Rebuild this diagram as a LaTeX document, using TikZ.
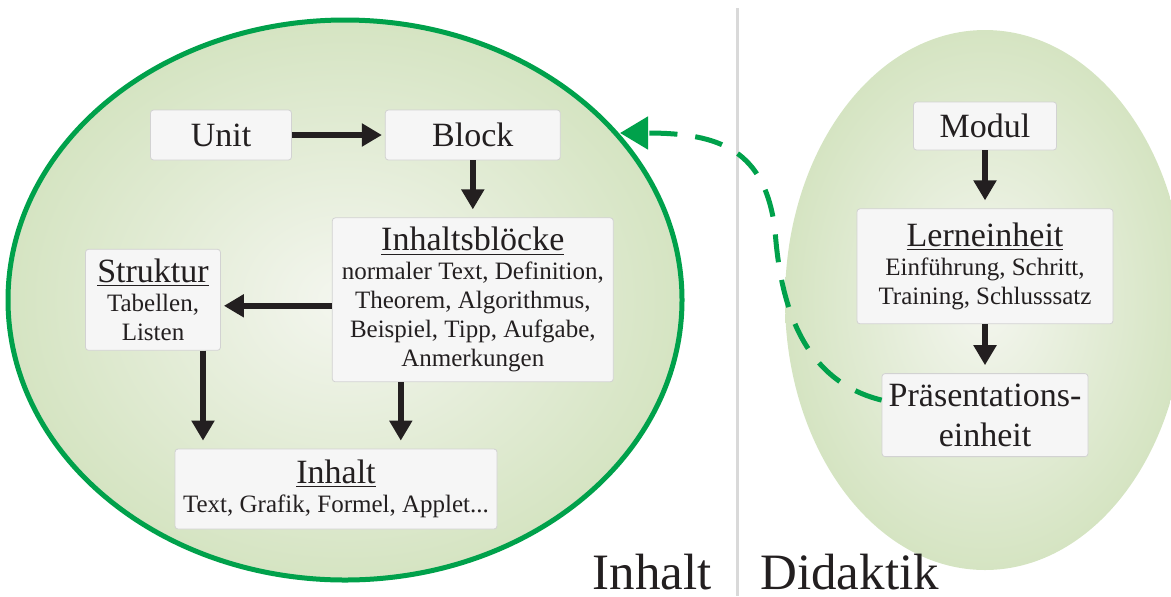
\documentclass[tikz,border=0pt]{standalone}
\usepackage{fontspec}
\setmainfont{Liberation Serif}
\usetikzlibrary{arrows.meta, positioning}
\definecolor{rimgreen}{HTML}{00A14B}
\definecolor{ink}{HTML}{231F20}
\definecolor{leafouter}{HTML}{D5E4C2}
\definecolor{leafinner}{HTML}{F4F6EF}
\def\BoxFill{gray!7}
\def\BoxLine{gray!35}
\newcommand\TitleFont{\fontsize{17}{20}\selectfont}
\newcommand\BodyFont{\fontsize{12.5}{14.5}\selectfont}

\begin{document}
\begin{tikzpicture} [x=0.5pt, y=-0.5pt,
    N/.style = {draw=\BoxLine, fill=\BoxFill, rounded corners=1.5pt, inner sep=0pt, align=center, font=\BodyFont, text=ink},
    T/.style = {N, font=\TitleFont},
    leaf/.style = {inner color=leafinner, outer color=leafouter},
    big/.style = {font=\fontsize{25.5}{30}\selectfont, text=ink, inner sep=0pt, text depth=0pt},
    back/.style = {draw=rimgreen, line width=2.5pt, dash pattern=on 14pt off 9pt, -{Triangle[length=14pt, width=16pt]}},
    every edge/.style = {draw=ink, line width=3pt, -{Triangle[length=10pt, width=11pt]}, shorten >=4pt}
    ]
  \useasboundingbox (0,0) rectangle (1171,596);
  \clip (0,0) rectangle (1171,596);

  %%% BACKGROUND %%%
  \shade[leaf] (985,300) ellipse [x radius=200, y radius=270];
  \shadedraw[leaf, draw=rimgreen, line width=2.5pt] (345,300) ellipse [x radius=337, y radius=280];
  \draw[gray!30, line width=1.5pt] (737,8) -- (737,596);

  %%% UNIT %%%
  \node[T, minimum width=70.5pt, minimum height=25pt] (unit) at (221,135) {Unit};

  %%% BLOCK %%%
  \node[T, minimum width=87.5pt, minimum height=25pt] (block) [right=46.5pt of unit] {Block};

  %%% INHALTSBLOECKE %%%
  \node[N, minimum width=140.5pt, minimum height=82pt] (bloecke) [below=28.5pt of block]
    {{\TitleFont\underline{Inhaltsblöcke}}\\ normaler Text, Definition,\\ Theorem, Algorithmus,\\ Beispiel, Tipp, Aufgabe,\\ Anmerkungen};

  %%% STRUKTUR %%%
  \node[N, minimum width=67.5pt, minimum height=50.5pt] (struktur) [left=55.5pt of bloecke]
    {{\TitleFont\underline{Struktur}}\\ Tabellen,\\ Listen};

  %%% INHALT %%%
  \node[N, minimum width=161pt, minimum height=40pt] (inhalt) at (336,489)
    {{\TitleFont\underline{Inhalt}}\\ Text, Grafik, Formel, Applet...};

  %%% MODUL %%%
  \node[T, minimum width=71.5pt, minimum height=24pt] (modul) at (985,126) {Modul};

  %%% LERNEINHEIT %%%
  \node[N, minimum width=128pt, minimum height=57.5pt] (lerneinheit) [below=29pt of modul]
    {{\TitleFont\underline{Lerneinheit}}\\ Einführung, Schritt,\\ Training, Schlusssatz};

  %%% PRAESENTATIONSEINHEIT %%%
  \node[T, minimum width=103pt, minimum height=41.5pt] (praes) [below=24.5pt of lerneinheit]
    {Präsentations-\\ einheit};

  % side labels
  \node[big, anchor=base east] (inhaltlabel) at (712,589) {Inhalt};
  \node[big, anchor=base west] (didaktiklabel) at (760,589) {Didaktik};

  % Edges
  \path (unit) edge[shorten >=1.5pt] (block);
  \path (block) edge (bloecke);
  \path ([yshift=-3pt]bloecke.west) edge[shorten >=1.5pt] ([yshift=-3pt]struktur.east);
  \path ([xshift=25pt]struktur.south) edge ([xshift=25pt]struktur.south |- inhalt.north);
  \path ([xshift=-36pt]bloecke.south) edge ([xshift=-36pt]bloecke.south |- inhalt.north);

  \path (modul) edge (lerneinheit);
  \path (lerneinheit) edge (praes);

  % back link
  \coordinate (backtip) at (620,133);
  \draw[back] ([yshift=7.5pt]praes.west) .. controls (800,380) and (780,300) .. (775,230)
    .. controls (765,150) and (720,133) .. (backtip);

\end{tikzpicture}
\end{document}
